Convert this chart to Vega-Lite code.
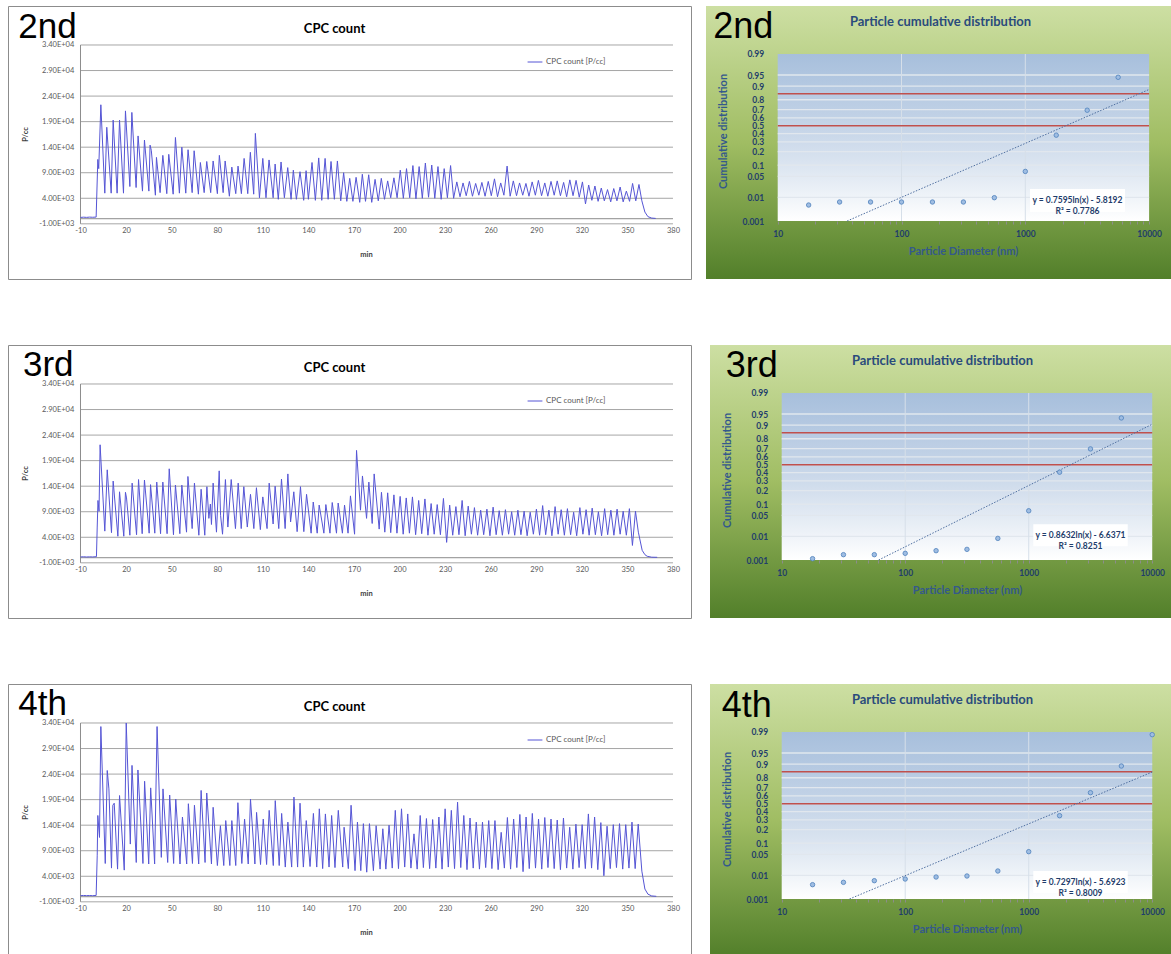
{
  "$schema": "https://vega.github.io/schema/vega-lite/v6.json",
  "background": "white",
  "padding": {"left": 7, "top": 5, "right": 0, "bottom": 0},
  "config": {
    "view": {"stroke": null},
    "font": "Lato",
    "axis": {"labelFont": "Lato", "titleFont": "Lato", "tickCount": 60},
    "legend": {"labelFont": "Lato"},
    "title": {"font": "Lato"}
  },
  "datasets": {
    "cpc2": [
      {"t":-10,"v":250},{"t":-8,"v":300},{"t":-6,"v":260},{"t":-4,"v":310},{"t":-2,"v":280},{"t":0.3,"v":320},
      {"t":1.4,"v":11600},{"t":2.0,"v":9800},{"t":3.4,"v":22300},{"t":6.0,"v":5000},{"t":7.3,"v":17900},{"t":10.2,"v":5000},
      {"t":11.5,"v":19300},{"t":14.1,"v":5000},{"t":15.7,"v":19300},{"t":18.3,"v":5000},{"t":19.6,"v":21100},{"t":22.5,"v":6300},
      {"t":23.8,"v":20800},{"t":26.6,"v":6100},{"t":27.9,"v":16200},{"t":30.8,"v":5400},{"t":32.1,"v":15400},{"t":35.0,"v":5400},
      {"t":35.8,"v":14400},{"t":36.6,"v":13400},{"t":39.3,"v":4600},{"t":40.0,"v":12000},{"t":42.4,"v":5100},{"t":44.2,"v":12400},
      {"t":46.8,"v":4900},{"t":48.1,"v":12600},{"t":51.0,"v":4800},{"t":52.5,"v":15900},{"t":55.1,"v":5000},{"t":56.7,"v":14000},
      {"t":59.3,"v":5000},{"t":60.8,"v":13500},{"t":63.5,"v":5100},{"t":64.8,"v":13300},{"t":67.6,"v":4800},{"t":68.9,"v":11000},
      {"t":71.4,"v":5100},{"t":73.1,"v":11200},{"t":75.7,"v":5100},{"t":77.3,"v":11300},{"t":80.1,"v":4900},{"t":81.4,"v":12400},
      {"t":83.9,"v":5100},{"t":85.2,"v":11300},{"t":88.0,"v":4400},{"t":89.6,"v":10100},{"t":92.2,"v":4900},{"t":93.7,"v":10300},
      {"t":95.9,"v":4900},{"t":97.7,"v":11800},{"t":100.1,"v":4900},{"t":101.8,"v":13000},{"t":104.0,"v":4800},{"t":105.1,"v":16700},
      {"t":107.8,"v":4100},{"t":110.0,"v":11800},{"t":112.1,"v":4100},{"t":114.1,"v":11500},{"t":116.8,"v":4100},{"t":118.1,"v":10700},
      {"t":120.2,"v":3800},{"t":122.0,"v":11100},{"t":124.2,"v":4100},{"t":126.4,"v":10000},{"t":128.6,"v":3800},{"t":130.1,"v":9500},
      {"t":132.1,"v":3800},{"t":134.5,"v":9200},{"t":136.9,"v":3600},{"t":138.5,"v":9400},{"t":140.0,"v":3800},{"t":142.4,"v":11000},
      {"t":144.6,"v":3600},{"t":146.8,"v":11900},{"t":148.8,"v":3600},{"t":151.0,"v":11800},{"t":153.0,"v":3800},{"t":154.9,"v":11200},
      {"t":157.1,"v":3800},{"t":159.1,"v":11300},{"t":161.3,"v":3500},{"t":163.2,"v":9000},{"t":165.3,"v":3400},{"t":167.2,"v":7900},
      {"t":169.3,"v":3400},{"t":171.4,"v":8100},{"t":173.8,"v":3200},{"t":175.5,"v":8700},{"t":177.6,"v":3400},{"t":179.7,"v":8600},
      {"t":181.7,"v":3200},{"t":183.9,"v":7700},{"t":186.0,"v":3500},{"t":188.0,"v":7900},{"t":190.1,"v":3800},{"t":192.2,"v":7400},
      {"t":194.2,"v":4100},{"t":196.3,"v":8000},{"t":198.4,"v":4100},{"t":200.5,"v":9500},{"t":202.5,"v":4000},{"t":204.6,"v":9800},
      {"t":206.7,"v":4100},{"t":208.8,"v":10400},{"t":210.8,"v":3900},{"t":212.9,"v":10200},{"t":215.0,"v":4000},{"t":217.0,"v":10900},
      {"t":219.1,"v":4200},{"t":221.2,"v":10500},{"t":223.2,"v":4000},{"t":225.3,"v":10200},{"t":227.4,"v":3800},{"t":229.4,"v":9800},
      {"t":231.5,"v":4100},{"t":233.6,"v":10400},{"t":235.6,"v":4000},{"t":237.7,"v":7200},{"t":239.8,"v":4300},{"t":241.8,"v":7000},
      {"t":243.9,"v":4500},{"t":246.0,"v":7300},{"t":248.0,"v":4400},{"t":250.1,"v":6900},{"t":252.2,"v":4600},{"t":254.2,"v":7100},
      {"t":256.3,"v":4400},{"t":258.4,"v":7300},{"t":260.4,"v":4500},{"t":262.5,"v":7800},{"t":264.5,"v":4300},{"t":266.6,"v":7000},
      {"t":268.7,"v":4600},{"t":270.8,"v":10300},{"t":272.8,"v":4400},{"t":274.9,"v":7400},{"t":277.0,"v":4500},{"t":279.0,"v":7000},
      {"t":281.1,"v":4600},{"t":283.2,"v":6900},{"t":285.2,"v":4400},{"t":287.3,"v":7200},{"t":289.4,"v":4600},{"t":291.4,"v":7500},
      {"t":293.5,"v":4500},{"t":295.6,"v":7000},{"t":297.6,"v":4400},{"t":299.7,"v":7300},{"t":301.8,"v":4600},{"t":303.8,"v":7400},
      {"t":305.9,"v":4500},{"t":308.0,"v":7100},{"t":310.0,"v":4300},{"t":312.1,"v":7600},{"t":314.2,"v":4500},{"t":316.2,"v":7500},
      {"t":318.3,"v":4200},{"t":320.4,"v":7200},{"t":322.4,"v":2900},{"t":324.5,"v":6600},{"t":326.6,"v":3600},{"t":328.6,"v":6400},
      {"t":330.7,"v":3400},{"t":332.8,"v":6000},{"t":334.8,"v":3500},{"t":336.9,"v":5700},{"t":339.0,"v":3300},{"t":341.0,"v":5900},
      {"t":343.1,"v":3500},{"t":345.2,"v":6200},{"t":347.2,"v":3300},{"t":349.3,"v":5400},{"t":351.4,"v":3400},{"t":353.4,"v":6900},
      {"t":355.5,"v":3500},{"t":357.6,"v":6700},{"t":359.5,"v":3500},{"t":361.5,"v":1300},{"t":363.5,"v":400},{"t":366.0,"v":120},
      {"t":368.6,"v":60}
    ],
    "cpc3": [
      {"t":-10,"v":150},{"t":-8,"v":180},{"t":-6,"v":140},{"t":-4,"v":170},{"t":-2,"v":150},{"t":0.5,"v":200},
      {"t":1.0,"v":6000},{"t":1.5,"v":11200},{"t":2.2,"v":9100},{"t":2.9,"v":22100},{"t":6.0,"v":5200},{"t":7.6,"v":17200},
      {"t":10.4,"v":4900},{"t":11.5,"v":15000},{"t":14.6,"v":4200},{"t":15.7,"v":12900},{"t":18.5,"v":4200},{"t":19.6,"v":12800},
      {"t":20.3,"v":11700},{"t":22.5,"v":4400},{"t":24.0,"v":14600},{"t":26.9,"v":4500},{"t":28.2,"v":15300},{"t":30.6,"v":4700},
      {"t":32.1,"v":15200},{"t":35.2,"v":4800},{"t":36.1,"v":14300},{"t":38.9,"v":4800},{"t":40.2,"v":14800},{"t":42.7,"v":4700},
      {"t":44.2,"v":14800},{"t":47.0,"v":4700},{"t":48.4,"v":17400},{"t":51.2,"v":4500},{"t":52.5,"v":14200},{"t":55.4,"v":4700},
      {"t":56.7,"v":14200},{"t":59.8,"v":5000},{"t":60.7,"v":15900},{"t":63.5,"v":5700},{"t":65.0,"v":14600},{"t":67.9,"v":4400},
      {"t":69.4,"v":13400},{"t":71.8,"v":4400},{"t":73.2,"v":13900},{"t":74.5,"v":7700},{"t":75.5,"v":10500},{"t":76.2,"v":6500},
      {"t":77.3,"v":14600},{"t":79.5,"v":5000},{"t":81.3,"v":17000},{"t":82.2,"v":8300},{"t":83.5,"v":4600},{"t":85.4,"v":15300},
      {"t":87.0,"v":6000},{"t":89.2,"v":15300},{"t":92.0,"v":5700},{"t":93.8,"v":14600},{"t":95.8,"v":5700},{"t":97.5,"v":13900},
      {"t":99.8,"v":6000},{"t":101.9,"v":12400},{"t":104.1,"v":5700},{"t":105.8,"v":13700},{"t":108.4,"v":5500},{"t":110.0,"v":11900},
      {"t":112.8,"v":5700},{"t":114.2,"v":14600},{"t":116.8,"v":6600},{"t":118.1,"v":14000},{"t":120.5,"v":5700},{"t":122.3,"v":15400},
      {"t":124.7,"v":5700},{"t":126.5,"v":16400},{"t":128.3,"v":7000},{"t":130.4,"v":12900},{"t":132.6,"v":5100},{"t":134.8,"v":13900},
      {"t":137.0,"v":5100},{"t":138.8,"v":12400},{"t":141.8,"v":4800},{"t":143.2,"v":10900},{"t":145.8,"v":4800},{"t":147.1,"v":10300},
      {"t":150.2,"v":4800},{"t":151.5,"v":10400},{"t":154.2,"v":4800},{"t":155.7,"v":10800},{"t":158.5,"v":4800},{"t":159.6,"v":10700},
      {"t":162.4,"v":4800},{"t":163.8,"v":10300},{"t":166.1,"v":4800},{"t":167.7,"v":12100},{"t":170.4,"v":4600},{"t":171.7,"v":21000},
      {"t":174.3,"v":9300},{"t":175.6,"v":16000},{"t":178.3,"v":7700},{"t":179.8,"v":14800},{"t":182.0,"v":6700},{"t":183.3,"v":16400},
      {"t":186.6,"v":5600},{"t":188.1,"v":12800},{"t":190.3,"v":5000},{"t":192.2,"v":12700},{"t":194.2,"v":4900},{"t":196.3,"v":12300},
      {"t":198.3,"v":4800},{"t":200.4,"v":12000},{"t":202.4,"v":4600},{"t":204.4,"v":11700},{"t":206.5,"v":4800},{"t":208.5,"v":11900},
      {"t":210.6,"v":4500},{"t":212.6,"v":11200},{"t":214.6,"v":4700},{"t":216.7,"v":11500},{"t":218.7,"v":4400},{"t":220.8,"v":10600},
      {"t":222.8,"v":4600},{"t":224.8,"v":10400},{"t":226.9,"v":4500},{"t":228.9,"v":11600},{"t":231.0,"v":3000},{"t":233.0,"v":10300},
      {"t":235.0,"v":4400},{"t":237.1,"v":10000},{"t":239.1,"v":4500},{"t":241.2,"v":11200},{"t":243.2,"v":4300},{"t":245.2,"v":10100},
      {"t":247.3,"v":4600},{"t":249.3,"v":9800},{"t":251.4,"v":4400},{"t":253.4,"v":9300},{"t":255.4,"v":4500},{"t":257.5,"v":9500},
      {"t":259.5,"v":4300},{"t":261.6,"v":9900},{"t":263.6,"v":4500},{"t":265.6,"v":9200},{"t":267.7,"v":4400},{"t":269.7,"v":9400},
      {"t":271.8,"v":4600},{"t":273.8,"v":9000},{"t":275.8,"v":4400},{"t":277.9,"v":9300},{"t":279.9,"v":4500},{"t":282.0,"v":9100},
      {"t":284.0,"v":4300},{"t":286.0,"v":8900},{"t":288.1,"v":4600},{"t":290.1,"v":9500},{"t":292.2,"v":4400},{"t":294.2,"v":10200},
      {"t":296.2,"v":4500},{"t":298.3,"v":9300},{"t":300.3,"v":4300},{"t":302.4,"v":10000},{"t":304.4,"v":4600},{"t":306.4,"v":9400},
      {"t":308.5,"v":4400},{"t":310.5,"v":9600},{"t":312.6,"v":4500},{"t":314.6,"v":8900},{"t":316.6,"v":4300},{"t":318.7,"v":9800},
      {"t":320.7,"v":4600},{"t":322.8,"v":9400},{"t":324.8,"v":4400},{"t":326.8,"v":9700},{"t":328.9,"v":4500},{"t":330.9,"v":9000},
      {"t":333.0,"v":4300},{"t":335.0,"v":9600},{"t":337.0,"v":4500},{"t":339.1,"v":9300},{"t":341.1,"v":4400},{"t":343.2,"v":9500},
      {"t":345.2,"v":4600},{"t":347.2,"v":9100},{"t":349.3,"v":4400},{"t":351.3,"v":9600},{"t":353.3,"v":2400},{"t":355.3,"v":9100},
      {"t":357.2,"v":5000},{"t":359.7,"v":1450},{"t":361.5,"v":600},{"t":363.0,"v":280},{"t":366.0,"v":100},{"t":369.6,"v":80}
    ],
    "cpc4": [
      {"t":-10,"v":200},{"t":-8,"v":240},{"t":-6,"v":210},{"t":-4,"v":230},{"t":-2,"v":200},{"t":0.3,"v":250},
      {"t":1.0,"v":8000},{"t":1.4,"v":15900},{"t":2.5,"v":11600},{"t":3.4,"v":33300},{"t":6.3,"v":6500},{"t":7.6,"v":24700},
      {"t":8.7,"v":21100},{"t":10.4,"v":5600},{"t":11.3,"v":17900},{"t":12.2,"v":18300},{"t":14.4,"v":5400},{"t":15.7,"v":19800},
      {"t":18.8,"v":5200},{"t":20.1,"v":34000},{"t":22.8,"v":10300},{"t":23.9,"v":25700},{"t":26.7,"v":6700},{"t":27.8,"v":24800},
      {"t":31.1,"v":6500},{"t":32.2,"v":22600},{"t":34.9,"v":6400},{"t":36.2,"v":21300},{"t":38.8,"v":6400},{"t":40.4,"v":33300},
      {"t":43.2,"v":7700},{"t":44.3,"v":21100},{"t":47.4,"v":6700},{"t":48.7,"v":19900},{"t":51.3,"v":6500},{"t":52.7,"v":19100},
      {"t":55.5,"v":6400},{"t":57.1,"v":15600},{"t":59.9,"v":6400},{"t":61.0,"v":18200},{"t":63.7,"v":6500},{"t":65.0,"v":17900},
      {"t":67.8,"v":6400},{"t":69.4,"v":20800},{"t":72.0,"v":6700},{"t":73.1,"v":20300},{"t":76.2,"v":6400},{"t":77.3,"v":17500},
      {"t":80.1,"v":6100},{"t":82.1,"v":13900},{"t":82.8,"v":11300},{"t":84.3,"v":6100},{"t":85.6,"v":14900},{"t":88.3,"v":6100},
      {"t":89.6,"v":14900},{"t":92.2,"v":6100},{"t":93.6,"v":18400},{"t":96.2,"v":6500},{"t":98.0,"v":15200},{"t":100.4,"v":6400},
      {"t":101.9,"v":19100},{"t":104.8,"v":6400},{"t":105.9,"v":16500},{"t":108.5,"v":6300},{"t":110.3,"v":15200},{"t":112.5,"v":6300},
      {"t":114.2,"v":16900},{"t":116.9,"v":6100},{"t":118.2,"v":18800},{"t":120.8,"v":6100},{"t":122.4,"v":16300},{"t":124.8,"v":5800},
      {"t":126.5,"v":14600},{"t":129.0,"v":5800},{"t":130.5,"v":19500},{"t":132.9,"v":5800},{"t":134.5,"v":18300},{"t":136.7,"v":5800},
      {"t":138.6,"v":14900},{"t":141.1,"v":5900},{"t":143.3,"v":16300},{"t":145.5,"v":5800},{"t":147.2,"v":17200},{"t":149.4,"v":5500},
      {"t":151.2,"v":16200},{"t":153.6,"v":5800},{"t":155.3,"v":15900},{"t":157.5,"v":5700},{"t":159.7,"v":16900},{"t":162.6,"v":5800},
      {"t":163.5,"v":13600},{"t":166.3,"v":5500},{"t":168.1,"v":17900},{"t":170.7,"v":5100},{"t":172.3,"v":14600},{"t":174.5,"v":5100},
      {"t":176.2,"v":14300},{"t":178.4,"v":4800},{"t":180.2,"v":14300},{"t":182.8,"v":5100},{"t":184.6,"v":13900},{"t":187.2,"v":5400},
      {"t":189.0,"v":13300},{"t":191.0,"v":5400},{"t":193.1,"v":14000},{"t":195.2,"v":5600},{"t":197.2,"v":16900},{"t":199.3,"v":5500},
      {"t":201.3,"v":17200},{"t":203.4,"v":5800},{"t":205.4,"v":16200},{"t":207.5,"v":5600},{"t":209.5,"v":12300},{"t":211.6,"v":5400},
      {"t":213.6,"v":15900},{"t":215.7,"v":5700},{"t":217.7,"v":15300},{"t":219.8,"v":5500},{"t":221.8,"v":15100},{"t":223.9,"v":5600},
      {"t":225.9,"v":15600},{"t":228.0,"v":5400},{"t":230.0,"v":17200},{"t":232.1,"v":5800},{"t":234.1,"v":16900},{"t":236.2,"v":5500},
      {"t":238.2,"v":18500},{"t":240.3,"v":5700},{"t":242.3,"v":15900},{"t":244.4,"v":5300},{"t":246.4,"v":15400},{"t":248.5,"v":5600},
      {"t":250.5,"v":14600},{"t":252.6,"v":5400},{"t":254.6,"v":14600},{"t":256.7,"v":5700},{"t":258.7,"v":14900},{"t":260.8,"v":5500},
      {"t":262.8,"v":14900},{"t":264.9,"v":5300},{"t":266.9,"v":12600},{"t":269.0,"v":5600},{"t":271.0,"v":15500},{"t":273.1,"v":5400},
      {"t":275.1,"v":15200},{"t":277.2,"v":5700},{"t":279.2,"v":16100},{"t":281.3,"v":4900},{"t":283.3,"v":15600},{"t":285.4,"v":5500},
      {"t":287.4,"v":16300},{"t":289.5,"v":5600},{"t":291.5,"v":15200},{"t":293.6,"v":5400},{"t":295.6,"v":15500},{"t":297.7,"v":5700},
      {"t":299.7,"v":15200},{"t":301.8,"v":5500},{"t":303.8,"v":15000},{"t":305.9,"v":5300},{"t":307.9,"v":15400},{"t":310.0,"v":5600},
      {"t":312.0,"v":13600},{"t":314.1,"v":5400},{"t":316.1,"v":14200},{"t":318.2,"v":5700},{"t":320.2,"v":14100},{"t":322.3,"v":5500},
      {"t":324.3,"v":16200},{"t":326.4,"v":5600},{"t":328.4,"v":15600},{"t":330.5,"v":5300},{"t":332.5,"v":14500},{"t":334.5,"v":4100},
      {"t":336.6,"v":13800},{"t":338.7,"v":5500},{"t":340.7,"v":14100},{"t":342.8,"v":5700},{"t":344.8,"v":14300},{"t":346.9,"v":5400},
      {"t":348.9,"v":14100},{"t":351.0,"v":5600},{"t":353.0,"v":14600},{"t":355.1,"v":5500},{"t":357.1,"v":14200},{"t":359.5,"v":5000},
      {"t":361.5,"v":1500},{"t":363.5,"v":500},{"t":366.0,"v":150},{"t":369.0,"v":80}
    ],
    "grid_cpc": [{"g":-1000},{"g":4000},{"g":9000},{"g":14000},{"g":19000},{"g":24000},{"g":29000},{"g":34000}],
    "grid_z": [{"z":-2.3263},{"z":-1.6449},{"z":-1.2816},{"z":-0.8416},{"z":-0.5244},{"z":-0.2533},{"z":0},{"z":0.2533},{"z":0.5244},{"z":0.8416},{"z":1.2816},{"z":1.6449}],
    "grid_d": [{"d":100},{"d":1000}],
    "limits": [{"z":0},{"z":1.0364}],
    "psd2": [{"d":17.78,"z":-2.572},{"d":31.62,"z":-2.474},{"d":56.23,"z":-2.474},{"d":100,"z":-2.474},{"d":177.8,"z":-2.474},{"d":316.2,"z":-2.474},{"d":562.3,"z":-2.334},{"d":1000,"z":-1.482},{"d":1778,"z":-0.306},{"d":3162,"z":0.503},{"d":5623,"z":1.571}],
    "psd3": [{"d":17.78,"z":-3.047},{"d":31.62,"z":-2.917},{"d":56.23,"z":-2.917},{"d":100,"z":-2.874},{"d":177.8,"z":-2.788},{"d":316.2,"z":-2.745},{"d":562.3,"z":-2.389},{"d":1000,"z":-1.494},{"d":1778,"z":-0.242},{"d":3162,"z":0.513},{"d":5623,"z":1.517}],
    "psd4": [{"d":17.78,"z":-2.625},{"d":31.62,"z":-2.55},{"d":56.23,"z":-2.496},{"d":100,"z":-2.442},{"d":177.8,"z":-2.377},{"d":316.2,"z":-2.344},{"d":562.3,"z":-2.182},{"d":1000,"z":-1.555},{"d":1778,"z":-0.388},{"d":3162,"z":0.358},{"d":5623,"z":1.223},{"d":10000,"z":2.24}],
    "trend2": [{"d":36.35,"z":-3.0902},{"d":10000,"z":1.1761}],
    "trend3": [{"d":60.9,"z":-3.0902},{"d":10000,"z":1.3133}],
    "trend4": [{"d":35.37,"z":-3.0902},{"d":10000,"z":1.0285}],
    "one": [{}]
  },
  "resolve": {"scale": {"x": "independent", "y": "independent", "color": "independent"}, "axis": {"x": "independent", "y": "independent"}, "legend": {"color": "independent"}},
  "spacing": 64,
  "vconcat": [
    {
      "spacing": 14,
      "resolve": {"scale": {"x": "independent", "y": "independent", "color": "independent"}, "axis": {"x": "independent", "y": "independent"}, "legend": {"color": "independent"}},
      "hconcat": [
        {
          "width": 683, "height": 273,
          "view": {"stroke": "#8c8c8c", "strokeWidth": 1, "fill": "#ffffff"},
          "title": {"text": "CPC count", "anchor": "middle", "dx": -15, "offset": -39.5, "fontSize": 13, "fontWeight": "bold", "color": "#000000", "baseline": "alphabetic"},
          "layer": [
            {"data": {"name": "grid_cpc"}, "mark": {"type": "rule", "color": "#a6a6a6", "strokeWidth": 1}, "encoding": {"y": {"field": "g", "type": "quantitative"}, "x": {"datum": -10}, "x2": {"datum": 380}}},
            {"data": {"name": "one"}, "mark": {"type": "rule", "color": "#8c8c8c", "strokeWidth": 1}, "encoding": {"x": {"datum": -10}, "y": {"datum": -1000}, "y2": {"datum": 34000}}},
            {"data": {"name": "one"}, "mark": {"type": "rule", "color": "#8c8c8c", "strokeWidth": 1}, "encoding": {"y": {"datum": 0}, "x": {"datum": -10}, "x2": {"datum": 380}}},
            {"data": {"name": "cpc2"}, "mark": {"type": "line", "strokeWidth": 1},
             "encoding": {
               "x": {"field": "t", "type": "quantitative", "scale": {"domain": [-57.72, 391.85], "nice": false, "zero": false},
                     "axis": {"values": [-10,20,50,80,110,140,170,200,230,260,290,320,350,380], "tickCount": 60, "labelExpr": "'' + datum.value", "offset": -55.3, "domain": false, "ticks": false, "grid": false, "labelPadding": 3, "labelFontSize": 7.5, "labelColor": "#595959", "labelFlush": false, "labelOverlap": false, "title": "min", "titleFontSize": 7.5, "titleFontWeight": "bold", "titleColor": "#404040", "titleX": 358, "titleY": 27, "titleBaseline": "top", "titleAlign": "center"}},
               "y": {"field": "v", "type": "quantitative", "scale": {"domain": [-11801, 41632], "nice": false, "zero": false},
                     "axis": {"values": [-1000,4000,9000,14000,19000,24000,29000,34000], "tickCount": 60, "labelExpr": "replace(replace(upper(format(datum.value, '.2e')), 'E+', 'E+0'), '\u2212', '-')", "offset": -72.3, "domain": false, "ticks": false, "grid": false, "labelPadding": 6.5, "labelFontSize": 7.5, "labelColor": "#595959", "labelOverlap": false, "labelFlush": false, "title": "P/cc", "titleFontSize": 7.5, "titleFontWeight": "bold", "titleColor": "#404040", "titleX": -51.3, "titleY": 128, "titleAngle": 270, "titleAlign": "center", "titleBaseline": "bottom"}},
               "color": {"datum": "CPC count [P/cc]", "type": "nominal", "scale": {"range": ["#5555d5"]},
                         "legend": {"orient": "none", "legendX": 519, "legendY": 48, "title": null, "padding": 0, "symbolType": "stroke", "symbolSize": 220, "symbolStrokeWidth": 1, "labelFontSize": 8, "labelColor": "#595959", "labelOffset": 3}}
             }},
            {"data": {"name": "one"}, "mark": {"type": "text", "text": "2nd", "font": "Liberation Sans", "fontSize": 35, "color": "#000000", "align": "left", "baseline": "alphabetic"}, "encoding": {"x": {"datum": -50.94}, "y": {"datum": 35408}}}
          ]
        },
        {
          "width": 465, "height": 273,
          "view": {"stroke": null, "fill": {"gradient": "linear", "x1": 0, "y1": 0, "x2": 0, "y2": 1, "stops": [{"offset": 0, "color": "#cddfa3"}, {"offset": 0.5, "color": "#a0bd63"}, {"offset": 1, "color": "#527f2a"}]}},
          "title": {"text": "Particle cumulative distribution", "anchor": "middle", "dx": 2, "offset": -32.5, "fontSize": 13, "fontWeight": "bold", "color": "#2a4b7c", "baseline": "alphabetic"},
          "layer": [
            {"data": {"name": "one"}, "mark": {"type": "rect", "fill": {"gradient": "linear", "x1": 0, "y1": 0, "x2": 0, "y2": 1, "stops": [{"offset": 0, "color": "#a7bfdc"}, {"offset": 0.45, "color": "#c6d5e8"}, {"offset": 0.8, "color": "#e9eff6"}, {"offset": 1, "color": "#ffffff"}]}}, "encoding": {"x": {"datum": 10}, "x2": {"datum": 10000}, "y": {"datum": -3.0902}, "y2": {"datum": 2.3263}}},
            {"data": {"name": "grid_z"}, "mark": {"type": "rule", "color": "#e1e7ee", "strokeWidth": 1.3}, "encoding": {"y": {"field": "z", "type": "quantitative"}, "x": {"datum": 10}, "x2": {"datum": 10000}}},
            {"data": {"name": "grid_d"}, "mark": {"type": "rule", "color": "#d6dfe9", "strokeWidth": 1}, "encoding": {"x": {"field": "d", "type": "quantitative"}, "y": {"datum": -3.0902}, "y2": {"datum": 2.3263}}},
            {"data": {"name": "limits"}, "mark": {"type": "rule", "color": "#c0504d", "strokeWidth": 1.6}, "encoding": {"y": {"field": "z", "type": "quantitative"}, "x": {"datum": 10}, "x2": {"datum": 10000}}},
            {"data": {"name": "trend2"}, "mark": {"type": "line", "color": "#4f6fa0", "strokeWidth": 1, "strokeDash": [1.5, 1.5]}, "encoding": {"x": {"field": "d", "type": "quantitative"}, "y": {"field": "z", "type": "quantitative"}}},
            {"data": {"name": "psd2"}, "mark": {"type": "circle", "size": 20, "fill": "#9fbde2", "stroke": "#4f81bd", "strokeWidth": 0.8, "opacity": 1},
             "encoding": {
               "x": {"field": "d", "type": "quantitative", "scale": {"type": "log", "domain": [2.635, 15027], "nice": false},
                     "axis": {"values": [10,20,30,40,50,60,70,80,90,100,200,300,400,500,600,700,800,900,1000,2000,3000,4000,5000,6000,7000,8000,9000,10000], "tickCount": 60, "labelExpr": "datum.value == 10 || datum.value == 100 || datum.value == 1000 || datum.value == 10000 ? '' + datum.value : ''", "offset": -58, "domain": false, "ticks": true, "tickSize": 3, "tickColor": "#8c8c8c", "grid": false, "labelPadding": 5, "labelFontSize": 8.5, "labelFontWeight": "bold", "labelColor": "#1f3d6b", "labelFlush": false, "labelOverlap": false, "title": "Particle Diameter (nm)", "titleFontSize": 11, "titleFontWeight": "bold", "titleColor": "#34598c", "titleX": 257, "titleY": 24, "titleBaseline": "top", "titleAlign": "center"}},
               "y": {"field": "z", "type": "quantitative", "scale": {"domain": [-4.971, 3.8827], "nice": false, "zero": false},
                     "axis": {"values": [-3.0902,-2.3263,-1.6449,-1.2816,-0.8416,-0.5244,-0.2533,0,0.2533,0.5244,0.8416,1.2816,1.6449,2.3263], "tickCount": 60, "labelExpr": "'' + round(cumulativeNormal(datum.value) * 1000) / 1000", "offset": -71.7, "domain": false, "ticks": false, "grid": false, "labelPadding": 14, "labelFontSize": 8.5, "labelFontWeight": "bold", "labelColor": "#1f3d6b", "labelOverlap": false, "labelFlush": false, "title": "Cumulative distribution", "titleFontSize": 11, "titleFontWeight": "bold", "titleColor": "#34598c", "titleX": -49, "titleY": 125, "titleAngle": 270, "titleAlign": "center", "titleBaseline": "bottom"}}
             }},
            {"data": {"name": "one"}, "mark": {"type": "rect", "fill": "#ffffff"}, "encoding": {"x": {"datum": 1091}, "x2": {"datum": 6383}, "y": {"datum": -2.798}, "y2": {"datum": -2.052}}},
            {"data": {"name": "one"}, "mark": {"type": "text", "text": ["y = 0.7595ln(x) - 5.8192", "R² = 0.7786"], "fontSize": 8.5, "fontWeight": "bold", "color": "#1f3d6b", "align": "center", "baseline": "middle", "lineHeight": 11}, "encoding": {"x": {"datum": 2639}, "y": {"datum": -2.425}}},
            {"data": {"name": "one"}, "mark": {"type": "text", "text": "2nd", "font": "Liberation Sans", "fontSize": 36, "color": "#000000", "align": "left", "baseline": "alphabetic"}, "encoding": {"x": {"datum": 3.018}, "y": {"datum": 2.845}}}
          ]
        }
      ]
    },
    {
      "spacing": 18,
      "resolve": {"scale": {"x": "independent", "y": "independent", "color": "independent"}, "axis": {"x": "independent", "y": "independent"}, "legend": {"color": "independent"}},
      "hconcat": [
        {
          "width": 683, "height": 273,
          "view": {"stroke": "#8c8c8c", "strokeWidth": 1, "fill": "#ffffff"},
          "title": {"text": "CPC count", "anchor": "middle", "dx": -15, "offset": -39.5, "fontSize": 13, "fontWeight": "bold", "color": "#000000", "baseline": "alphabetic"},
          "layer": [
            {"data": {"name": "grid_cpc"}, "mark": {"type": "rule", "color": "#a6a6a6", "strokeWidth": 1}, "encoding": {"y": {"field": "g", "type": "quantitative"}, "x": {"datum": -10}, "x2": {"datum": 380}}},
            {"data": {"name": "one"}, "mark": {"type": "rule", "color": "#8c8c8c", "strokeWidth": 1}, "encoding": {"x": {"datum": -10}, "y": {"datum": -1000}, "y2": {"datum": 34000}}},
            {"data": {"name": "one"}, "mark": {"type": "rule", "color": "#8c8c8c", "strokeWidth": 1}, "encoding": {"y": {"datum": 0}, "x": {"datum": -10}, "x2": {"datum": 380}}},
            {"data": {"name": "cpc3"}, "mark": {"type": "line", "strokeWidth": 1},
             "encoding": {
               "x": {"field": "t", "type": "quantitative", "scale": {"domain": [-57.72, 391.85], "nice": false, "zero": false},
                     "axis": {"values": [-10,20,50,80,110,140,170,200,230,260,290,320,350,380], "tickCount": 60, "labelExpr": "'' + datum.value", "offset": -55.3, "domain": false, "ticks": false, "grid": false, "labelPadding": 3, "labelFontSize": 7.5, "labelColor": "#595959", "labelFlush": false, "labelOverlap": false, "title": "min", "titleFontSize": 7.5, "titleFontWeight": "bold", "titleColor": "#404040", "titleX": 358, "titleY": 27, "titleBaseline": "top", "titleAlign": "center"}},
               "y": {"field": "v", "type": "quantitative", "scale": {"domain": [-11801, 41632], "nice": false, "zero": false},
                     "axis": {"values": [-1000,4000,9000,14000,19000,24000,29000,34000], "tickCount": 60, "labelExpr": "replace(replace(upper(format(datum.value, '.2e')), 'E+', 'E+0'), '\u2212', '-')", "offset": -72.3, "domain": false, "ticks": false, "grid": false, "labelPadding": 6.5, "labelFontSize": 7.5, "labelColor": "#595959", "labelOverlap": false, "labelFlush": false, "title": "P/cc", "titleFontSize": 7.5, "titleFontWeight": "bold", "titleColor": "#404040", "titleX": -51.3, "titleY": 128, "titleAngle": 270, "titleAlign": "center", "titleBaseline": "bottom"}},
               "color": {"datum": "CPC count [P/cc]", "type": "nominal", "scale": {"range": ["#5555d5"]},
                         "legend": {"orient": "none", "legendX": 519, "legendY": 48, "title": null, "padding": 0, "symbolType": "stroke", "symbolSize": 220, "symbolStrokeWidth": 1, "labelFontSize": 8, "labelColor": "#595959", "labelOffset": 3}}
             }},
            {"data": {"name": "one"}, "mark": {"type": "text", "text": "3rd", "font": "Liberation Sans", "fontSize": 35, "color": "#000000", "align": "left", "baseline": "alphabetic"}, "encoding": {"x": {"datum": -47.85}, "y": {"datum": 35467}}}
          ]
        },
        {
          "width": 461, "height": 273,
          "view": {"stroke": null, "fill": {"gradient": "linear", "x1": 0, "y1": 0, "x2": 0, "y2": 1, "stops": [{"offset": 0, "color": "#cddfa3"}, {"offset": 0.5, "color": "#a0bd63"}, {"offset": 1, "color": "#527f2a"}]}},
          "title": {"text": "Particle cumulative distribution", "anchor": "middle", "dx": 2, "offset": -32.5, "fontSize": 13, "fontWeight": "bold", "color": "#2a4b7c", "baseline": "alphabetic"},
          "layer": [
            {"data": {"name": "one"}, "mark": {"type": "rect", "fill": {"gradient": "linear", "x1": 0, "y1": 0, "x2": 0, "y2": 1, "stops": [{"offset": 0, "color": "#a7bfdc"}, {"offset": 0.45, "color": "#c6d5e8"}, {"offset": 0.8, "color": "#e9eff6"}, {"offset": 1, "color": "#ffffff"}]}}, "encoding": {"x": {"datum": 10}, "x2": {"datum": 10000}, "y": {"datum": -3.0902}, "y2": {"datum": 2.3263}}},
            {"data": {"name": "grid_z"}, "mark": {"type": "rule", "color": "#e1e7ee", "strokeWidth": 1.3}, "encoding": {"y": {"field": "z", "type": "quantitative"}, "x": {"datum": 10}, "x2": {"datum": 10000}}},
            {"data": {"name": "grid_d"}, "mark": {"type": "rule", "color": "#d6dfe9", "strokeWidth": 1}, "encoding": {"x": {"field": "d", "type": "quantitative"}, "y": {"datum": -3.0902}, "y2": {"datum": 2.3263}}},
            {"data": {"name": "limits"}, "mark": {"type": "rule", "color": "#c0504d", "strokeWidth": 1.6}, "encoding": {"y": {"field": "z", "type": "quantitative"}, "x": {"datum": 10}, "x2": {"datum": 10000}}},
            {"data": {"name": "trend3"}, "mark": {"type": "line", "color": "#4f6fa0", "strokeWidth": 1, "strokeDash": [1.5, 1.5]}, "encoding": {"x": {"field": "d", "type": "quantitative"}, "y": {"field": "z", "type": "quantitative"}}},
            {"data": {"name": "psd3"}, "mark": {"type": "circle", "size": 20, "fill": "#9fbde2", "stroke": "#4f81bd", "strokeWidth": 0.8, "opacity": 1},
             "encoding": {
               "x": {"field": "d", "type": "quantitative", "scale": {"type": "log", "domain": [2.627, 14190], "nice": false},
                     "axis": {"values": [10,20,30,40,50,60,70,80,90,100,200,300,400,500,600,700,800,900,1000,2000,3000,4000,5000,6000,7000,8000,9000,10000], "tickCount": 60, "labelExpr": "datum.value == 10 || datum.value == 100 || datum.value == 1000 || datum.value == 10000 ? '' + datum.value : ''", "offset": -58, "domain": false, "ticks": true, "tickSize": 3, "tickColor": "#8c8c8c", "grid": false, "labelPadding": 5, "labelFontSize": 8.5, "labelFontWeight": "bold", "labelColor": "#1f3d6b", "labelFlush": false, "labelOverlap": false, "title": "Particle Diameter (nm)", "titleFontSize": 11, "titleFontWeight": "bold", "titleColor": "#34598c", "titleX": 257, "titleY": 24, "titleBaseline": "top", "titleAlign": "center"}},
               "y": {"field": "z", "type": "quantitative", "scale": {"domain": [-4.971, 3.8827], "nice": false, "zero": false},
                     "axis": {"values": [-3.0902,-2.3263,-1.6449,-1.2816,-0.8416,-0.5244,-0.2533,0,0.2533,0.5244,0.8416,1.2816,1.6449,2.3263], "tickCount": 60, "labelExpr": "'' + round(cumulativeNormal(datum.value) * 1000) / 1000", "offset": -71.7, "domain": false, "ticks": false, "grid": false, "labelPadding": 14, "labelFontSize": 8.5, "labelFontWeight": "bold", "labelColor": "#1f3d6b", "labelOverlap": false, "labelFlush": false, "title": "Cumulative distribution", "titleFontSize": 11, "titleFontWeight": "bold", "titleColor": "#34598c", "titleX": -49, "titleY": 125, "titleAngle": 270, "titleAlign": "center", "titleBaseline": "bottom"}}
             }},
            {"data": {"name": "one"}, "mark": {"type": "rect", "fill": "#ffffff"}, "encoding": {"x": {"datum": 1089}, "x2": {"datum": 6334}, "y": {"datum": -2.646}, "y2": {"datum": -1.932}}},
            {"data": {"name": "one"}, "mark": {"type": "text", "text": ["y = 0.8632ln(x) - 6.6371", "R² = 0.8251"], "fontSize": 8.5, "fontWeight": "bold", "color": "#1f3d6b", "align": "center", "baseline": "middle", "lineHeight": 11}, "encoding": {"x": {"datum": 2626}, "y": {"datum": -2.289}}},
            {"data": {"name": "one"}, "mark": {"type": "text", "text": "3rd", "font": "Liberation Sans", "fontSize": 36, "color": "#000000", "align": "left", "baseline": "alphabetic"}, "encoding": {"x": {"datum": 3.52}, "y": {"datum": 2.835}}}
          ]
        }
      ]
    },
    {
      "spacing": 18,
      "resolve": {"scale": {"x": "independent", "y": "independent", "color": "independent"}, "axis": {"x": "independent", "y": "independent"}, "legend": {"color": "independent"}},
      "hconcat": [
        {
          "width": 683, "height": 273,
          "view": {"stroke": "#8c8c8c", "strokeWidth": 1, "fill": "#ffffff"},
          "title": {"text": "CPC count", "anchor": "middle", "dx": -15, "offset": -39.5, "fontSize": 13, "fontWeight": "bold", "color": "#000000", "baseline": "alphabetic"},
          "layer": [
            {"data": {"name": "grid_cpc"}, "mark": {"type": "rule", "color": "#a6a6a6", "strokeWidth": 1}, "encoding": {"y": {"field": "g", "type": "quantitative"}, "x": {"datum": -10}, "x2": {"datum": 380}}},
            {"data": {"name": "one"}, "mark": {"type": "rule", "color": "#8c8c8c", "strokeWidth": 1}, "encoding": {"x": {"datum": -10}, "y": {"datum": -1000}, "y2": {"datum": 34000}}},
            {"data": {"name": "one"}, "mark": {"type": "rule", "color": "#8c8c8c", "strokeWidth": 1}, "encoding": {"y": {"datum": 0}, "x": {"datum": -10}, "x2": {"datum": 380}}},
            {"data": {"name": "cpc4"}, "mark": {"type": "line", "strokeWidth": 1},
             "encoding": {
               "x": {"field": "t", "type": "quantitative", "scale": {"domain": [-57.72, 391.85], "nice": false, "zero": false},
                     "axis": {"values": [-10,20,50,80,110,140,170,200,230,260,290,320,350,380], "tickCount": 60, "labelExpr": "'' + datum.value", "offset": -55.3, "domain": false, "ticks": false, "grid": false, "labelPadding": 3, "labelFontSize": 7.5, "labelColor": "#595959", "labelFlush": false, "labelOverlap": false, "title": "min", "titleFontSize": 7.5, "titleFontWeight": "bold", "titleColor": "#404040", "titleX": 358, "titleY": 27, "titleBaseline": "top", "titleAlign": "center"}},
               "y": {"field": "v", "type": "quantitative", "scale": {"domain": [-11801, 41632], "nice": false, "zero": false},
                     "axis": {"values": [-1000,4000,9000,14000,19000,24000,29000,34000], "tickCount": 60, "labelExpr": "replace(replace(upper(format(datum.value, '.2e')), 'E+', 'E+0'), '\u2212', '-')", "offset": -72.3, "domain": false, "ticks": false, "grid": false, "labelPadding": 6.5, "labelFontSize": 7.5, "labelColor": "#595959", "labelOverlap": false, "labelFlush": false, "title": "P/cc", "titleFontSize": 7.5, "titleFontWeight": "bold", "titleColor": "#404040", "titleX": -51.3, "titleY": 128, "titleAngle": 270, "titleAlign": "center", "titleBaseline": "bottom"}},
               "color": {"datum": "CPC count [P/cc]", "type": "nominal", "scale": {"range": ["#5555d5"]},
                         "legend": {"orient": "none", "legendX": 519, "legendY": 48, "title": null, "padding": 0, "symbolType": "stroke", "symbolSize": 220, "symbolStrokeWidth": 1, "labelFontSize": 8, "labelColor": "#595959", "labelOffset": 3}}
             }},
            {"data": {"name": "one"}, "mark": {"type": "text", "text": "4th", "font": "Liberation Sans", "fontSize": 35, "color": "#000000", "align": "left", "baseline": "alphabetic"}, "encoding": {"x": {"datum": -50.94}, "y": {"datum": 35467}}}
          ]
        },
        {
          "width": 461, "height": 273,
          "view": {"stroke": null, "fill": {"gradient": "linear", "x1": 0, "y1": 0, "x2": 0, "y2": 1, "stops": [{"offset": 0, "color": "#cddfa3"}, {"offset": 0.5, "color": "#a0bd63"}, {"offset": 1, "color": "#527f2a"}]}},
          "title": {"text": "Particle cumulative distribution", "anchor": "middle", "dx": 2, "offset": -32.5, "fontSize": 13, "fontWeight": "bold", "color": "#2a4b7c", "baseline": "alphabetic"},
          "layer": [
            {"data": {"name": "one"}, "mark": {"type": "rect", "fill": {"gradient": "linear", "x1": 0, "y1": 0, "x2": 0, "y2": 1, "stops": [{"offset": 0, "color": "#a7bfdc"}, {"offset": 0.45, "color": "#c6d5e8"}, {"offset": 0.8, "color": "#e9eff6"}, {"offset": 1, "color": "#ffffff"}]}}, "encoding": {"x": {"datum": 10}, "x2": {"datum": 10000}, "y": {"datum": -3.0902}, "y2": {"datum": 2.3263}}},
            {"data": {"name": "grid_z"}, "mark": {"type": "rule", "color": "#e1e7ee", "strokeWidth": 1.3}, "encoding": {"y": {"field": "z", "type": "quantitative"}, "x": {"datum": 10}, "x2": {"datum": 10000}}},
            {"data": {"name": "grid_d"}, "mark": {"type": "rule", "color": "#d6dfe9", "strokeWidth": 1}, "encoding": {"x": {"field": "d", "type": "quantitative"}, "y": {"datum": -3.0902}, "y2": {"datum": 2.3263}}},
            {"data": {"name": "limits"}, "mark": {"type": "rule", "color": "#c0504d", "strokeWidth": 1.6}, "encoding": {"y": {"field": "z", "type": "quantitative"}, "x": {"datum": 10}, "x2": {"datum": 10000}}},
            {"data": {"name": "trend4"}, "mark": {"type": "line", "color": "#4f6fa0", "strokeWidth": 1, "strokeDash": [1.5, 1.5]}, "encoding": {"x": {"field": "d", "type": "quantitative"}, "y": {"field": "z", "type": "quantitative"}}},
            {"data": {"name": "psd4"}, "mark": {"type": "circle", "size": 20, "fill": "#9fbde2", "stroke": "#4f81bd", "strokeWidth": 0.8, "opacity": 1},
             "encoding": {
               "x": {"field": "d", "type": "quantitative", "scale": {"type": "log", "domain": [2.627, 14190], "nice": false},
                     "axis": {"values": [10,20,30,40,50,60,70,80,90,100,200,300,400,500,600,700,800,900,1000,2000,3000,4000,5000,6000,7000,8000,9000,10000], "tickCount": 60, "labelExpr": "datum.value == 10 || datum.value == 100 || datum.value == 1000 || datum.value == 10000 ? '' + datum.value : ''", "offset": -58, "domain": false, "ticks": true, "tickSize": 3, "tickColor": "#8c8c8c", "grid": false, "labelPadding": 5, "labelFontSize": 8.5, "labelFontWeight": "bold", "labelColor": "#1f3d6b", "labelFlush": false, "labelOverlap": false, "title": "Particle Diameter (nm)", "titleFontSize": 11, "titleFontWeight": "bold", "titleColor": "#34598c", "titleX": 257, "titleY": 24, "titleBaseline": "top", "titleAlign": "center"}},
               "y": {"field": "z", "type": "quantitative", "scale": {"domain": [-4.971, 3.8827], "nice": false, "zero": false},
                     "axis": {"values": [-3.0902,-2.3263,-1.6449,-1.2816,-0.8416,-0.5244,-0.2533,0,0.2533,0.5244,0.8416,1.2816,1.6449,2.3263], "tickCount": 60, "labelExpr": "'' + round(cumulativeNormal(datum.value) * 1000) / 1000", "offset": -71.7, "domain": false, "ticks": false, "grid": false, "labelPadding": 14, "labelFontSize": 8.5, "labelFontWeight": "bold", "labelColor": "#1f3d6b", "labelOverlap": false, "labelFlush": false, "title": "Cumulative distribution", "titleFontSize": 11, "titleFontWeight": "bold", "titleColor": "#34598c", "titleX": -49, "titleY": 125, "titleAngle": 270, "titleAlign": "center", "titleBaseline": "bottom"}}
             }},
            {"data": {"name": "one"}, "mark": {"type": "rect", "fill": "#ffffff"}, "encoding": {"x": {"datum": 1089}, "x2": {"datum": 6334}, "y": {"datum": -2.895}, "y2": {"datum": -2.182}}},
            {"data": {"name": "one"}, "mark": {"type": "text", "text": ["y = 0.7297ln(x) - 5.6923", "R² = 0.8009"], "fontSize": 8.5, "fontWeight": "bold", "color": "#1f3d6b", "align": "center", "baseline": "middle", "lineHeight": 11}, "encoding": {"x": {"datum": 2626}, "y": {"datum": -2.539}}},
            {"data": {"name": "one"}, "mark": {"type": "text", "text": "4th", "font": "Liberation Sans", "fontSize": 36, "color": "#000000", "align": "left", "baseline": "alphabetic"}, "encoding": {"x": {"datum": 3.27}, "y": {"datum": 2.813}}}
          ]
        }
      ]
    }
  ]
}
